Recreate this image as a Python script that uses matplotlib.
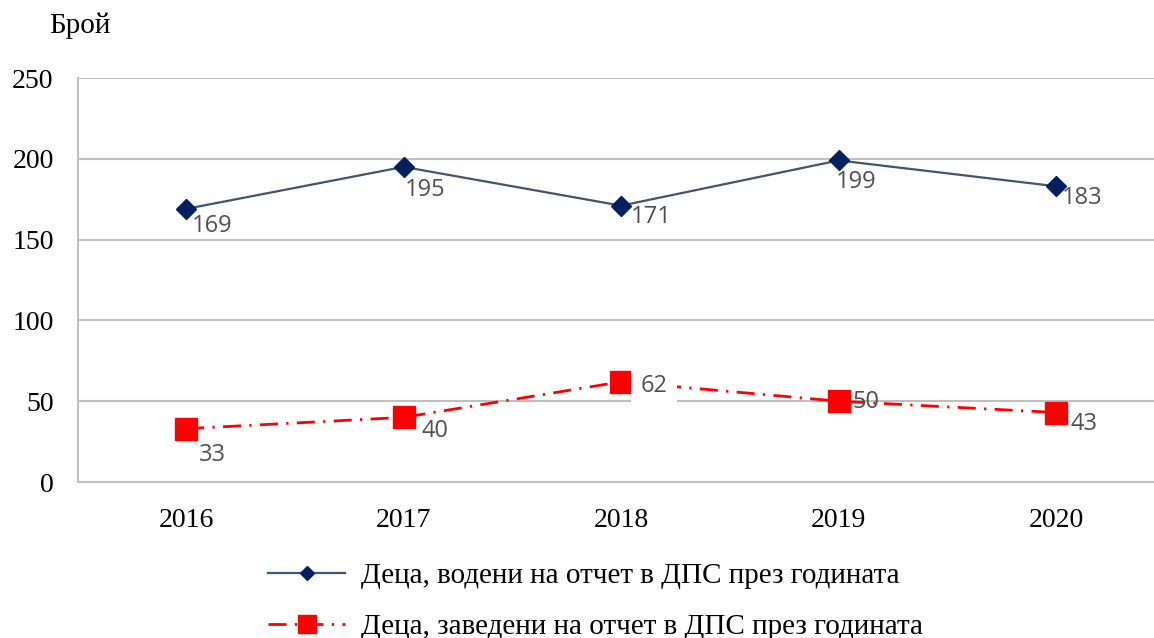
import matplotlib
matplotlib.use("Agg")
import matplotlib.pyplot as plt

years = ["2016", "2017", "2018", "2019", "2020"]
led = [169, 195, 171, 199, 183]
entered = [33, 40, 62, 50, 43]
label_led = "Деца, водени на отчет в ДПС през годината"
label_entered = "Деца, заведени на отчет в ДПС през годината"
y_ticks = [0, 50, 100, 150, 200, 250]

# label offsets in pixels (dx, dy)
led_off = [(26, -17), (22, -23), (30, -11), (18, -22), (26, -12)]
ent_off = [(26, -26), (31, -14), (33, -4), (27, -1), (28, -11)]

W, H = 1154, 638
fig = plt.figure(figsize=(W / 100, H / 100), dpi=100)
ax = fig.add_axes([78 / W, 1 - 482 / H, 1 - 78 / W, (482 - 78) / H])

x = list(range(len(years)))
navy_line = "#44546A"
navy = "#002060"
red = "#FF0000"
grid_c = "#BFBFBF"

ax.plot(x, led, color=navy_line, lw=1.6, marker="D", ms=10.5,
        mfc=navy, mec=navy, label=label_led, zorder=3)
ax.plot(x, entered, color=red, lw=2, linestyle=(0, (6.5, 3, 0.8, 3)),
        marker="s", ms=16, mfc=red, mec=red, label=label_entered, zorder=3)

lab_font = dict(family="Open Sans", fontsize=17, color="#505050")
for xi, v, (dx, dy) in zip(x, led, led_off):
    ax.annotate(str(v), (xi, v), xytext=(dx, dy), textcoords="offset pixels",
                ha="center", va="center", zorder=4, **lab_font)
for i, (xi, v, (dx, dy)) in enumerate(zip(x, entered, ent_off)):
    kw = {}
    if v == 62:
        kw["bbox"] = dict(boxstyle="square,pad=0.4", fc="white", ec="none")
    ax.annotate(str(v), (xi, v), xytext=(dx, dy), textcoords="offset pixels",
                ha="center", va="center", zorder=4, **lab_font, **kw)

ax.set_xlim(-0.497, 4.45)
ax.set_ylim(0, 250)
ax.set_yticks(y_ticks)
ax.set_xticks(x)
ax.set_xticklabels(years)
ax.yaxis.grid(True, color=grid_c, lw=1.5)
ax.set_axisbelow(True)
ax.tick_params(length=0, labelsize=20)
for lab in ax.get_xticklabels() + ax.get_yticklabels():
    lab.set_family("Liberation Serif")
ax.tick_params(axis="x", pad=18.5)
ax.tick_params(axis="y", pad=17.5)
for s in ["top", "right"]:
    ax.spines[s].set_visible(False)
for s in ["left", "bottom"]:
    ax.spines[s].set_color(grid_c)
    ax.spines[s].set_linewidth(1.5)

fig.text(80 / W, 1 - 26 / H, "Брой", family="Liberation Serif", fontsize=21,
         ha="center", va="center")

leg = fig.legend(loc="upper left", bbox_to_anchor=(268 / W, 1 - 563 / H),
                 frameon=False, prop=dict(family="Liberation Serif", size=21),
                 handlelength=2.64, handletextpad=0.55, labelspacing=0.83,
                 borderpad=0, borderaxespad=0)
hs = leg.legend_handles
hs[0].set_markersize(7)
hs[1].set_markersize(13)

fig.savefig("out.png", dpi=100)
